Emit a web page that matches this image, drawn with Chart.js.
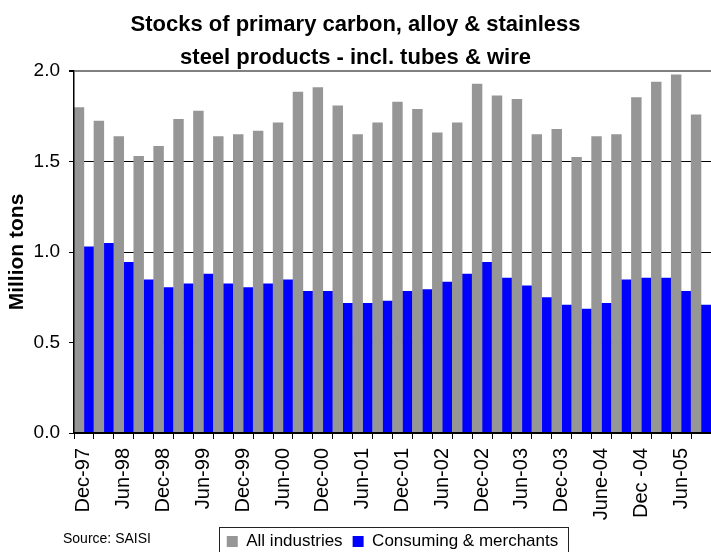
<!DOCTYPE html>
<html>
<head>
<meta charset="utf-8">
<title>Stocks of primary carbon, alloy &amp; stainless steel products</title>
<script src="https://cdn.jsdelivr.net/npm/chart.js@4.4.1/dist/chart.umd.min.js"></script>
<style>
  html, body { margin: 0; padding: 0; background: #fff; }
  #wrap { width: 711px; height: 552px; }
</style>
</head>
<body>
<div id="wrap"><canvas id="chart"></canvas></div>
<script>
// Quarterly stocks, Dec-97 .. Sep-05, million tons.
// Only every second quarter gets a label on the axis.
const QUARTERS = [
  "Dec-97", "Mar-98", "Jun-98", "Sep-98", "Dec-98", "Mar-99", "Jun-99", "Sep-99",
  "Dec-99", "Mar-00", "Jun-00", "Sep-00", "Dec-00", "Mar-01", "Jun-01", "Sep-01",
  "Dec-01", "Mar-02", "Jun-02", "Sep-02", "Dec-02", "Mar-03", "Jun-03", "Sep-03",
  "Dec-03", "Mar-04", "June-04", "Sep-04", "Dec -04", "Mar-05", "Jun-05", "Sep-05",
];
const ALL_INDUSTRIES = [
  1.80, 1.725, 1.64, 1.53, 1.585, 1.735, 1.78, 1.64,
  1.65, 1.67, 1.715, 1.885, 1.91, 1.81, 1.65, 1.715,
  1.83, 1.79, 1.66, 1.715, 1.93, 1.865, 1.845, 1.65,
  1.68, 1.525, 1.64, 1.65, 1.855, 1.94, 1.98, 1.76,
];
const CONSUMING_MERCHANTS = [
  1.03, 1.05, 0.945, 0.848, 0.805, 0.826, 0.88, 0.826,
  0.805, 0.826, 0.848, 0.784, 0.784, 0.718, 0.718, 0.73,
  0.784, 0.794, 0.836, 0.88, 0.945, 0.858, 0.815, 0.75,
  0.708, 0.686, 0.718, 0.848, 0.858, 0.858, 0.784, 0.708,
];
const Y_TICKS = [0, 0.5, 1.0, 1.5, 2.0];

const FONT = '"Liberation Sans", Arial, sans-serif';
const GREY = "#969696";
const BLUE = "#0000ff";

// frame round the legend + the source note at bottom left
const legendFrame = {
  id: "legendFrame",
  afterDraw(chart) {
    const boxes = chart.legend && chart.legend.legendHitBoxes;
    if (!boxes || !boxes.length) return;
    const first = boxes[0], last = boxes[boxes.length - 1];
    const mid = first.top + first.height / 2;
    const x0 = Math.round(first.left - 8) + 0.5;
    const x1 = Math.round(last.left + last.width + 10) + 0.5;
    const y0 = Math.round(mid - 15) + 0.5;
    const ctx = chart.ctx;
    ctx.save();
    ctx.strokeStyle = "#222";
    ctx.lineWidth = 1;
    ctx.strokeRect(x0, y0, x1 - x0, 40);
    ctx.font = `14px ${FONT}`;
    ctx.fillStyle = "#000";
    ctx.textBaseline = "middle";
    ctx.fillText("Source: SAISI", 63, 539);
    ctx.restore();
  },
};

new Chart(document.getElementById("chart"), {
  type: "bar",
  data: {
    labels: QUARTERS,
    datasets: [
      { label: "All industries", data: ALL_INDUSTRIES, backgroundColor: GREY, borderWidth: 0 },
      { label: "Consuming & merchants", data: CONSUMING_MERCHANTS, backgroundColor: BLUE, borderWidth: 0 },
    ],
  },
  options: {
    responsive: true,
    maintainAspectRatio: false,
    animation: false,
    categoryPercentage: 1.0,
    barPercentage: 1.05,
    // negative bottom: legend sits low, cut by the window edge like the original
    layout: { padding: { left: 0, right: 0, top: 0, bottom: -8 } },
    plugins: {
      tooltip: { enabled: false },
      title: {
        display: true,
        text: ["Stocks of primary carbon, alloy & stainless", "steel products - incl. tubes & wire"],
        color: "#000",
        font: { family: FONT, size: 22, weight: "bold", lineHeight: "33px" },
        padding: { top: 8.5, bottom: -3.5 },
      },
      legend: {
        position: "bottom",
        fullSize: false,
        labels: {
          color: "#000",
          font: { family: FONT, size: 17 },
          boxWidth: 11,
          boxHeight: 11,
          padding: 10,
        },
      },
    },
    scales: {
      x: {
        // fixed height, and no side padding for the rotated labels: plot runs to the edge
        afterFit: s => { s.height = 90; s.paddingLeft = 0; s.paddingRight = 0; },
        grid: { drawOnChartArea: false, color: "#000", tickLength: 6 },
        border: { color: "#000", width: 2, z: 1 },
        ticks: {
          autoSkip: false,
          minRotation: 90,
          maxRotation: 90,
          padding: 9,
          color: "#000",
          font: { family: FONT, size: 20 },
          callback: (v, i) => (i % 2 ? "" : QUARTERS[i]),
        },
      },
      y: {
        min: 0,
        max: 2,
        afterFit: s => { s.width = 74; },
        afterBuildTicks: s => { s.ticks = Y_TICKS.map(v => ({ value: v })); },
        grid: {
          color: ctx => (ctx.tick && ctx.tick.value === 2 ? "#808080" : "#000"),
          lineWidth: ctx => (ctx.tick && ctx.tick.value === 2 ? 2 : 1),
          tickColor: "#000",
          tickLength: 5,
        },
        border: { color: "#000", width: 1.5, z: 1 },
        ticks: {
          padding: 9,
          color: "#000",
          font: { family: FONT, size: 19 },
          callback: v => Number(v).toFixed(1),
        },
        title: {
          display: true,
          text: "Million tons",
          color: "#000",
          font: { family: FONT, size: 21, weight: "bold" },
          padding: { top: 4.5, bottom: 0 },
        },
      },
    },
  },
  plugins: [legendFrame],
});
</script>
</body>
</html>
